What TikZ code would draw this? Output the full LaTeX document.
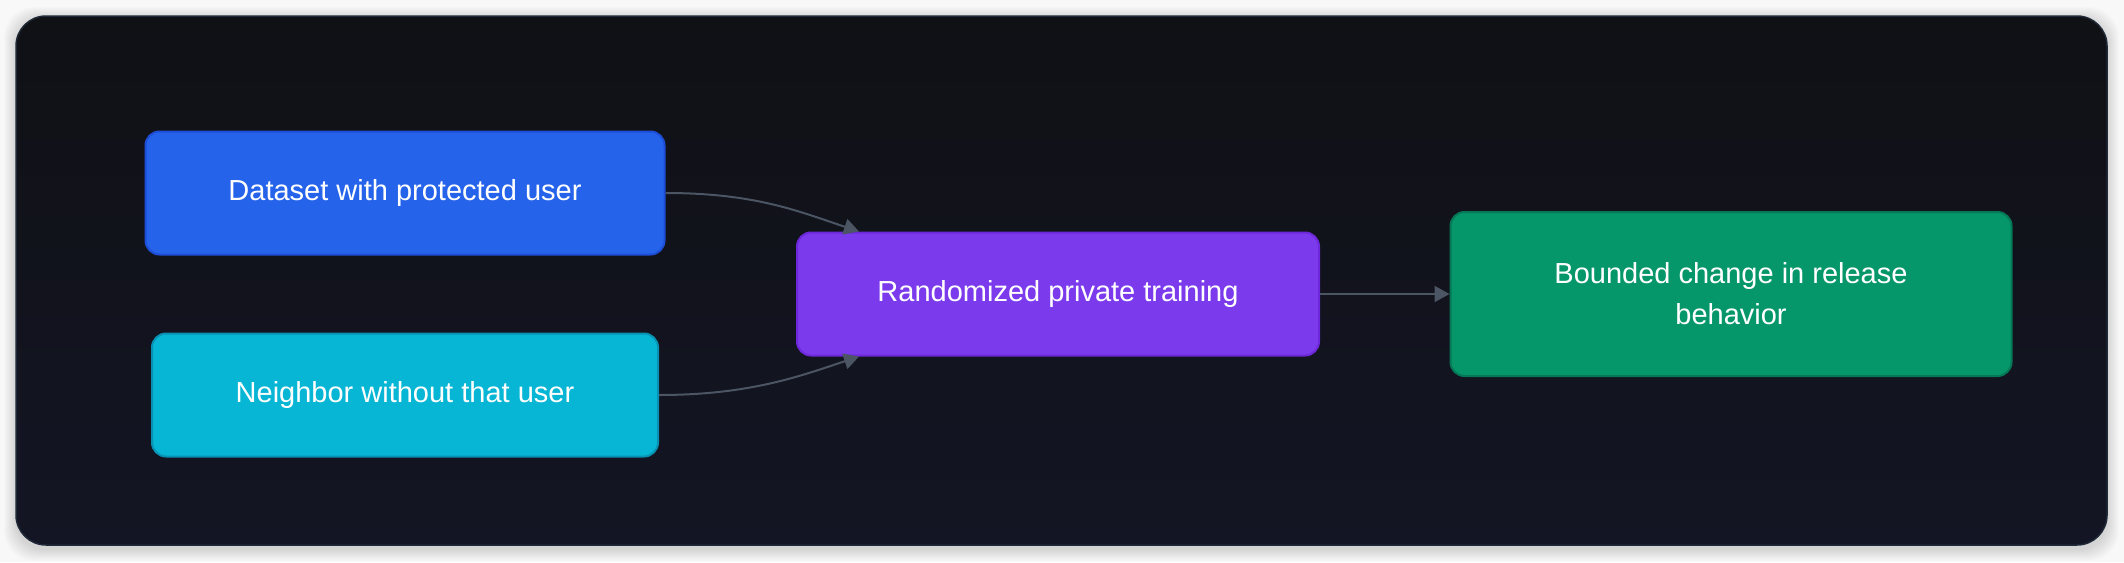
\documentclass[tikz,border=0pt]{standalone}
\usepackage{fontspec}
\setmainfont{Liberation Sans}
\usetikzlibrary{positioning,shapes,shadows,arrows.meta}
\definecolor{pagebg}{HTML}{F8F8F9}
\definecolor{frametop}{HTML}{101115}
\definecolor{framebot}{HTML}{131524}
\definecolor{frameline}{HTML}{1F2937}
\definecolor{edgegray}{HTML}{4B5563}
\definecolor{bluefill}{HTML}{2563EB}
\definecolor{blueline}{HTML}{1D4ED8}
\definecolor{cyanfill}{HTML}{06B6D4}
\definecolor{cyanline}{HTML}{0891B2}
\definecolor{purplefill}{HTML}{7C3AED}
\definecolor{purpleline}{HTML}{6D28D9}
\definecolor{greenfill}{HTML}{059669}
\definecolor{greenline}{HTML}{047857}
\tikzstyle{card}=[rectangle, rounded corners=14pt, draw, line width=2pt, text=white, inner sep=0pt, align=center, font=\fontsize{29}{41}\selectfont]
\tikzstyle{flow}=[-{Triangle[length=15pt,width=16pt]}, draw=edgegray, line width=2pt]

\begin{document}
\begin{tikzpicture}[x=1pt,y=-1pt]
        \useasboundingbox (0,0) rectangle (2124,562);
        \fill[pagebg] (0,0) rectangle (2124,562);
        % soft shadow under the panel
        \foreach \s in {1,...,12}
            \fill[black, opacity=0.012, rounded corners=30pt] (16-\s,19-\s) rectangle (2107+\s,549+\s);
        \path[top color=frametop, bottom color=framebot, draw=frameline, line width=1.5pt, rounded corners=30pt]
              (16,16) rectangle (2107,545);

        \node[card, fill=bluefill, draw=blueline, minimum width=519pt, minimum height=123pt] (dset) at (405,193) {Dataset with protected user};
        \node[card, fill=cyanfill, draw=cyanline, minimum width=506pt, minimum height=123pt] (nbr) at (405,395) {Neighbor without that user};
        \node[card, fill=purplefill, draw=purpleline, minimum width=522pt, minimum height=123pt] (rtrain) at (1058,294) {Randomized private training};
        \node[card, fill=greenfill, draw=greenline, minimum width=561pt, minimum height=164pt] (bound) at (1731,294) {Bounded change in release\\behavior};

        \draw[flow] (dset.east) .. controls +(90,0) and +(-60,-20) .. ([xshift=63pt]rtrain.north west);
        \draw[flow] (nbr.east) .. controls +(90,0) and +(-60,20) .. ([xshift=63pt]rtrain.south west);
        \draw[flow] (rtrain.east) -- (bound.west);
    \end{tikzpicture}
\end{document}
